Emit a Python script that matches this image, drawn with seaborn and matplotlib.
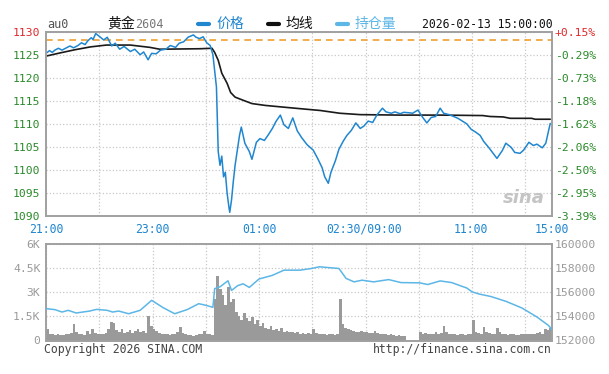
#!/usr/bin/env python3

import matplotlib.pyplot as plt
import seaborn as sns
from matplotlib.lines import Line2D
from matplotlib.ticker import MultipleLocator

# x = trading minutes since 21:00 (night 21:00-02:30, day 09:00-15:00)
price_min = [0, 4, 7, 10, 14, 18, 23, 27, 31, 36, 40, 44, 47, 51, 53, 56, 60, 65, 69, 74, 78, 83, 88,
             95, 100, 106, 110, 115, 119, 124, 129, 135, 140, 146, 150, 155, 160, 166, 169, 173, 177,
             181, 185, 188,
             192, 194, 196, 198, 200, 202, 204, 206, 207, 209, 211, 213, 216, 218, 220, 222, 224, 229,
             232, 237, 241, 246, 250, 255, 259, 264, 268, 273, 278, 283, 288, 294, 301, 306, 311, 314,
             318, 321, 326, 330, 335, 339, 344, 349, 354, 358, 363, 368, 373, 379, 383, 389, 393, 399,
             403, 409, 413, 419, 424, 429, 434, 439, 444, 448, 454, 458, 464, 469, 474, 479, 484, 489,
             493, 499, 504, 508, 514, 518, 524, 528, 534, 538, 544, 549, 553, 559, 563, 568]
price = [1125.3, 1125.9, 1125.5, 1126.0, 1126.4, 1126.0, 1126.5, 1126.9, 1126.5, 1127.0, 1127.6,
         1127.2, 1128.0, 1128.7, 1128.3, 1129.6, 1129.0, 1128.2, 1128.8, 1126.9, 1127.5, 1126.2,
         1126.8, 1125.7, 1126.2, 1125.0, 1125.6, 1123.9, 1125.3, 1125.2, 1126.0, 1126.2, 1127.0,
         1126.6, 1127.5, 1127.8, 1128.8, 1129.3, 1128.8, 1128.5, 1128.9, 1127.6, 1127.0, 1125.0,
         1118.0, 1104.0, 1101.0, 1103.0, 1098.5, 1099.5, 1095.0, 1092.0, 1090.8, 1093.5, 1097.5, 1101.0,
         1105.0, 1107.5, 1109.3, 1107.5, 1105.8, 1104.0,
         1102.3, 1106.0, 1106.8, 1106.4, 1107.5, 1109.0, 1110.5, 1111.9, 1109.8, 1109.0, 1111.3, 1108.5,
         1107.0, 1105.5, 1104.3, 1102.5, 1100.5, 1098.5,
         1097.1, 1099.5, 1102.0, 1104.5, 1106.3, 1107.5, 1108.6, 1110.2, 1109.0, 1109.5, 1110.6, 1110.3,
         1112.0, 1113.4, 1112.6, 1112.3, 1112.6, 1112.2,
         1112.5, 1112.4, 1112.3, 1113.0, 1111.5, 1110.2, 1111.4, 1111.6, 1113.4, 1112.3, 1112.0, 1111.7,
         1111.2, 1110.6, 1110.0, 1108.8, 1108.2, 1107.5,
         1106.2, 1104.8, 1103.5, 1102.5, 1104.2, 1105.8, 1104.9, 1103.8, 1103.6, 1104.3, 1106.0, 1105.3,
         1105.6, 1104.8, 1105.8, 1110.1]

avg_min = [0, 16, 33, 50, 68, 95, 117, 128, 173, 187, 190, 194, 198, 204, 208, 213, 221, 232, 247, 269,
           286, 309, 331, 354, 399, 444, 492, 500, 515, 523, 547, 551, 568]
avg_price = [1124.7, 1125.4, 1126.1, 1126.7, 1127.1, 1127.1, 1126.6, 1126.2, 1126.3, 1126.4, 1125.5,
             1123.8, 1121.0, 1118.8, 1116.8, 1115.8, 1115.2, 1114.4, 1114.0, 1113.6, 1113.3, 1112.9,
             1112.3, 1112.0, 1111.9, 1111.9, 1111.8, 1111.6, 1111.5, 1111.2, 1111.2, 1111.0, 1111.0]

oi_min = [0, 10, 18, 25, 34, 49, 57, 69, 75, 82, 93, 106, 119, 132, 145, 159, 172, 180, 188, 190, 196,
          205, 209, 216, 222, 229, 240, 255, 268, 286, 299, 308, 330, 338, 347, 356, 369, 386, 400, 421,
          430, 444, 457, 474, 480, 488, 501, 518, 536, 553, 566, 570]
oi = [154640, 154560, 154360, 154500, 154280, 154440, 154580, 154500, 154360, 154440, 154220, 154500,
      155330, 154720, 154220, 154560, 155050, 154920, 154750, 156300, 156450, 156950, 156150, 156550,
      156700, 156400, 157100, 157400, 157830, 157830, 157970, 158110, 157970, 157150, 156860, 157000,
      156860, 157050, 156800, 156780, 156640, 156940, 156800, 156350, 156030, 155850, 155650, 155250,
      154700, 153950, 153250, 152900]

# volume, one value per 3 minutes from 21:00
vol_min = list(range(0, 570, 3))
vol = [700, 420, 380, 350, 400, 330, 360, 420, 380, 450,
       1050, 500, 380, 420, 350, 560, 400, 700, 450, 380,
       420, 380, 460, 720, 1150, 1100, 650, 500, 700, 480,
       520, 650, 480, 560, 700, 520, 600, 480, 1550, 900,
       700, 600, 450, 400, 380, 420, 350, 380, 400, 500,
       820, 450, 380, 350, 320, 300, 350, 400, 380, 600,
       400, 380, 350, 2600, 4000, 3200, 2800, 2200, 3300, 2400,
       2600, 1800, 1500, 1300, 1700, 1400, 1200, 1450, 1000, 1300,
       900, 1100, 800, 700, 900, 650, 700, 600, 800, 550,
       600, 500, 550, 450, 500, 400, 480, 420, 450, 380,
       700, 450, 400, 380, 420, 360, 400, 380, 350, 420,
       2600, 1000, 800, 700, 650, 600, 550, 500, 600, 520,
       500, 450, 480, 600, 450, 420, 400, 380, 350, 400,
       350, 300, 320, 280, 300, 0, 0, 0, 0, 0,
       500, 400, 450, 380, 420, 400, 500, 380, 450, 900,
       500, 400, 380, 420, 350, 380, 400, 350, 380, 400,
       1250, 500, 450, 420, 850, 500, 450, 420, 380, 780,
       500, 420, 380, 350, 400, 380, 350, 330, 380, 400,
       380, 420, 400, 380, 450, 500, 420, 700, 650, 750]

prev_settle = 1128.3
price_ticks = [1090, 1095, 1100, 1105, 1110, 1115, 1120, 1125, 1130]
pct_labels = ["-3.39%", "-2.95%", "-2.50%", "-2.06%", "-1.62%", "-1.18%", "-0.73%", "-0.29%", "+0.15%"]
time_ticks = [0, 120, 240, 358, 479, 570]
time_labels = ["21:00", "23:00", "01:00", "02:30/09:00", "11:00", "15:00"]
vol_ticks = [0, 1500, 3000, 4500, 6000]
vol_labels = ["0", "1.5K", "3K", "4.5K", "6K"]
oi_ticks = [152000, 154000, 156000, 158000, 160000]

W, H = 609, 374
MONO = "DejaVu Sans Mono"
CJK = "Noto Sans CJK SC"
GREEN = "#2a8a2a"
RED = "#e0282a"
BLUE = "#1f86cf"
LBLUE = "#5cb6e6"
GRAY = "#9a9a9a"


def fx(px):
    return px / W


def fy(py):
    return 1 - py / H


def style_axes(ax):
    for s in ax.spines.values():
        s.set_color("#a0a0a0")
        s.set_linewidth(1.4)
    ax.xaxis.set_minor_locator(MultipleLocator(60))
    ax.grid(which="minor", axis="x", color="#c8c8c8", linestyle=":", linewidth=0.9)
    ax.grid(which="major", axis="y", color="#c8c8c8", linestyle=":", linewidth=0.9)
    ax.grid(which="major", axis="x", visible=False)
    ax.tick_params(which="both", length=0)
    ax.set_axisbelow(True)
    ax.set_xlim(0, 570)


def main():
    sns.set_style("white")
    plt.rcParams["font.family"] = [MONO, CJK]

    fig = plt.figure(figsize=(W / 100, H / 100), dpi=100)

    # price panel
    ax1 = fig.add_axes([fx(46), fy(216), fx(552) - fx(46), fy(31.7) - fy(216)])
    style_axes(ax1)
    ax1.axhline(prev_settle, color="#f0a030", linestyle=(0, (4, 3)), linewidth=1.2)
    sns.lineplot(x=avg_min, y=avg_price, ax=ax1, color="#1a1a1a", linewidth=1.2, estimator=None)
    sns.lineplot(x=price_min, y=price, ax=ax1, color=BLUE, linewidth=1.1, estimator=None)
    ax1.set_ylim(1090, 1130)
    ax1.set_yticks(price_ticks)
    ax1.set_yticklabels([str(t) for t in price_ticks], fontsize=8.2)
    for lbl, t in zip(ax1.get_yticklabels(), price_ticks):
        lbl.set_color(RED if t > prev_settle else GREEN)
    ax1.set_xticks(time_ticks)
    ax1.set_xticklabels(time_labels, fontsize=8.3, color=BLUE)
    ax1.tick_params(axis="y", pad=4)
    ax1.tick_params(axis="x", pad=5)
    ax1.set_xlabel("")
    ax1.set_ylabel("")

    ax1r = ax1.twinx()
    ax1r.set_ylim(1090, 1130)
    ax1r.set_yticks(price_ticks)
    ax1r.set_yticklabels(pct_labels, fontsize=8.2)
    for lbl, t in zip(ax1r.get_yticklabels(), price_ticks):
        lbl.set_color(RED if t > prev_settle else GREEN)
    ax1r.tick_params(length=0, pad=2)
    for s in ax1r.spines.values():
        s.set_visible(False)

    ax1.text(0.985, 0.05, "sina", transform=ax1.transAxes, ha="right", va="bottom",
             fontsize=13, fontstyle="italic", fontweight="bold", color="#c4c4c4",
             family="DejaVu Sans")

    # volume / open interest panel
    ax2 = fig.add_axes([fx(46), fy(340.5), fx(552) - fx(46), fy(244) - fy(340.5)])
    style_axes(ax2)
    ax2.bar(vol_min, vol, width=3, align="edge", color=GRAY, linewidth=0)
    ax2.set_ylim(0, 6000)
    ax2.set_yticks(vol_ticks)
    ax2.set_yticklabels(vol_labels, fontsize=8.2, color=GRAY)
    ax2.set_xticks([])
    ax2.tick_params(axis="y", pad=4)

    ax2r = ax2.twinx()
    sns.lineplot(x=oi_min, y=oi, ax=ax2r, color=LBLUE, linewidth=1.1, estimator=None)
    ax2r.set_ylim(152000, 160000)
    ax2r.set_yticks(oi_ticks)
    ax2r.set_yticklabels([str(t) for t in oi_ticks], fontsize=8.2, color=GRAY)
    ax2r.tick_params(length=0, pad=2)
    ax2r.set_ylabel("")
    for s in ax2r.spines.values():
        s.set_visible(False)
    ax2.set_xlim(0, 570)

    # header
    ty = fy(24)
    fig.text(fx(47), ty, "au0", fontsize=8.5, color="#555555", va="center")
    fig.text(fx(107), ty, "黄金", fontsize=10, color="#111111", va="center", family=[CJK])
    fig.text(fx(135), ty, "2604", fontsize=8.5, color="#777777", va="center")
    legend = [(198, 216, BLUE, "价格"), (268, 286, "#111111", "均线"), (337, 355, LBLUE, "持仓量")]
    for x0, xt, c, name in legend:
        fig.add_artist(Line2D([fx(x0), fx(x0 + 11)], [ty, ty], transform=fig.transFigure,
                              color=c, linewidth=3))
        fig.text(fx(xt), ty, name, fontsize=10, color=c, va="center", family=[CJK])
    fig.text(fx(553), ty, "2026-02-13 15:00:00", fontsize=8.3, color="#111111",
             va="center", ha="right")

    # footer
    fig.text(fx(44), fy(350), "Copyright 2026 SINA.COM", fontsize=8.3, color="#444444", va="center")
    fig.text(fx(552), fy(350), "http://finance.sina.com.cn", fontsize=8.3, color="#444444",
             va="center", ha="right")

    fig.savefig("out.png", dpi=100, facecolor="white")


if __name__ == "__main__":
    main()
